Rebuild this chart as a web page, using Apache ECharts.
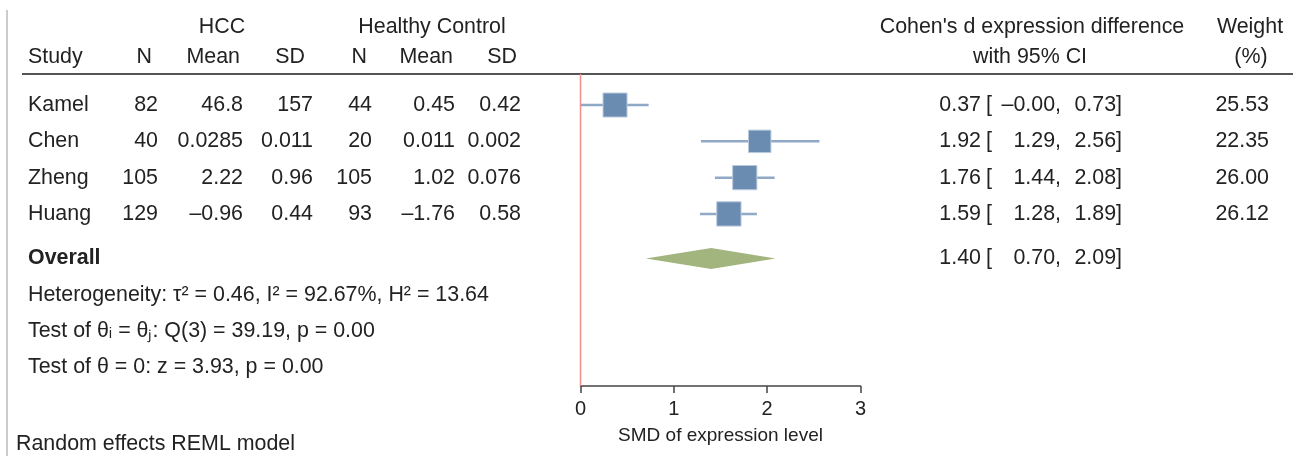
<!DOCTYPE html>
<html>
<head>
<meta charset="utf-8">
<script src="https://cdn.jsdelivr.net/npm/echarts@6/dist/echarts.min.js"></script>
<style>
  html, body { margin: 0; padding: 0; background: #fff; }
  #chart { width: 1306px; height: 456px; }
</style>
</head>
<body>
<div id="chart"></div>
<script>
// study level data
var studies = ['Kamel', 'Chen', 'Zheng', 'Huang'];
var hccN = [82, 40, 105, 129];
var hccMean = ['46.8', '0.0285', '2.22', '–0.96'];
var hccSD = ['157', '0.011', '0.96', '0.44'];
var ctlN = [44, 20, 105, 93];
var ctlMean = ['0.45', '0.011', '1.02', '–1.76'];
var ctlSD = ['0.42', '0.002', '0.076', '0.58'];
var smd = [0.37, 1.92, 1.76, 1.59];
var ciLow = [-0.003, 1.29, 1.44, 1.28];
var ciHigh = [0.73, 2.56, 2.08, 1.89];
var weights = [25.53, 22.35, 26.00, 26.12];
// overall estimate [smd, low, high]
var overall = [1.40, 0.70, 2.09];
var statLines = [
  'Heterogeneity: τ² = 0.46, I² = 92.67%, H² = 13.64',
  'Test of θᵢ = θⱼ: Q(3) = 39.19, p = 0.00',
  'Test of θ = 0: z = 3.93, p = 0.00'
];
var xTicks = [0, 1, 2, 3];

// layout (rows in row units, columns in px)
var studyRows = [1, 2, 3, 4];
var overallRow = 5.23;
var statRows = [6.23, 7.24, 8.22];
var FONT = '"Liberation Sans", Arial, Helvetica, sans-serif';

function fmt(v) {
  return v.toFixed(2).replace('-', '–');
}

function textSeries(cells, size) {
  return {
    type: 'custom',
    xAxisIndex: 0,
    yAxisIndex: 0,
    silent: true,
    data: cells.map(function (c) { return [c.x, c.row]; }),
    renderItem: function (params, api) {
      var c = cells[params.dataIndex];
      var p = api.coord([c.x, c.row]);
      return {
        type: 'text',
        x: p[0],
        y: p[1],
        style: {
          text: c.text,
          align: c.align || 'left',
          verticalAlign: 'middle',
          font: (c.bold ? 'bold ' : '') + (c.size || size) + 'px ' + FONT,
          fill: '#222'
        }
      };
    }
  };
}

var cells = [];
// header
cells.push({x: 222, row: -1.15, text: 'HCC', align: 'center'});
cells.push({x: 432, row: -1.15, text: 'Healthy Control', align: 'center'});
cells.push({x: 28, row: -0.32, text: 'Study'});
[[152, 'N'], [240, 'Mean'], [305, 'SD'], [367, 'N'], [453, 'Mean'], [517, 'SD']].forEach(function (h) {
  cells.push({x: h[0], row: -0.32, text: h[1], align: 'right'});
});
cells.push({x: 1032, row: -1.15, text: "Cohen's d expression difference", align: 'center'});
cells.push({x: 1030, row: -0.32, text: 'with 95% CI', align: 'center'});
cells.push({x: 1250, row: -1.15, text: 'Weight', align: 'center'});
cells.push({x: 1251, row: -0.32, text: '(%)', align: 'center'});

studies.forEach(function (s, i) {
  var r = studyRows[i];
  cells.push({x: 28, row: r, text: s});
  cells.push({x: 158, row: r, text: String(hccN[i]), align: 'right'});
  cells.push({x: 243, row: r, text: hccMean[i], align: 'right'});
  cells.push({x: 313, row: r, text: hccSD[i], align: 'right'});
  cells.push({x: 372, row: r, text: String(ctlN[i]), align: 'right'});
  cells.push({x: 455, row: r, text: ctlMean[i], align: 'right'});
  cells.push({x: 521, row: r, text: ctlSD[i], align: 'right'});
  cells.push({x: 981, row: r, text: fmt(smd[i]), align: 'right'});
  cells.push({x: 986, row: r, text: '['});
  cells.push({x: 1061, row: r, text: fmt(ciLow[i]) + ',', align: 'right'});
  cells.push({x: 1122, row: r, text: fmt(ciHigh[i]) + ']', align: 'right'});
  cells.push({x: 1269, row: r, text: weights[i].toFixed(2), align: 'right'});
});
cells.push({x: 28, row: overallRow, text: 'Overall', bold: true});
cells.push({x: 981, row: overallRow, text: fmt(overall[0]), align: 'right'});
cells.push({x: 986, row: overallRow, text: '['});
cells.push({x: 1061, row: overallRow, text: fmt(overall[1]) + ',', align: 'right'});
cells.push({x: 1122, row: overallRow, text: fmt(overall[2]) + ']', align: 'right'});
statLines.forEach(function (t, i) {
  cells.push({x: 28, row: statRows[i], text: t});
});
cells.push({x: 16, row: 10.35, text: 'Random effects REML model'});

var option = {
  animation: false,
  backgroundColor: '#fff',
  grid: [
    {left: 0, right: 0, top: 0, bottom: 0},
    {left: 580.5, width: 280, top: 0, bottom: 70}
  ],
  xAxis: [
    {gridIndex: 0, type: 'value', min: 0, max: 1306, show: false},
    {
      gridIndex: 1, type: 'value', min: 0, max: 3, interval: 1,
      position: 'bottom',
      splitLine: {show: false},
      axisLine: {show: true, onZero: false, lineStyle: {color: '#444', width: 1.5}},
      axisTick: {show: true, length: 7, lineStyle: {color: '#444', width: 1.5}},
      axisLabel: {color: '#222', fontSize: 20, fontFamily: FONT, margin: 13,
        formatter: function (v) { return xTicks.indexOf(v) >= 0 ? String(v) : ''; }},
      name: 'SMD of expression level',
      nameLocation: 'middle',
      nameGap: 40,
      nameTextStyle: {color: '#222', fontSize: 19, fontFamily: FONT}
    }
  ],
  yAxis: [
    {gridIndex: 0, type: 'value', min: -1.893, max: 10.669, inverse: true, show: false},
    {gridIndex: 1, type: 'value', min: -1.893, max: 8.74, inverse: true, show: false}
  ],
  series: [
    // left border and header rule
    {
      type: 'line', xAxisIndex: 0, yAxisIndex: 0, silent: true, symbol: 'none',
      lineStyle: {color: '#999', width: 1},
      data: [[7, -1.62], [7, 10.669]]
    },
    {
      type: 'line', xAxisIndex: 0, yAxisIndex: 0, silent: true, symbol: 'none',
      lineStyle: {color: '#555', width: 2},
      data: [[22, 0.146], [1293, 0.146]]
    },
    // no-effect reference line
    {
      type: 'line', xAxisIndex: 1, yAxisIndex: 1, silent: true, symbol: 'none',
      lineStyle: {color: '#f28f8a', width: 1.5},
      data: [[0, 0.146], [0, 8.74]]
    },
    // confidence intervals
    {
      type: 'custom', xAxisIndex: 1, yAxisIndex: 1, silent: true,
      data: studies.map(function (s, i) { return [ciLow[i], ciHigh[i], studyRows[i]]; }),
      renderItem: function (params, api) {
        var a = api.coord([api.value(0), api.value(2)]);
        var b = api.coord([api.value(1), api.value(2)]);
        return {
          type: 'line',
          shape: {x1: a[0], y1: a[1], x2: b[0], y2: b[1]},
          style: {stroke: '#8fa9c6', lineWidth: 2.5}
        };
      }
    },
    // study estimates, box area ~ weight
    {
      type: 'scatter', xAxisIndex: 1, yAxisIndex: 1, silent: true,
      symbol: 'rect',
      data: studies.map(function (s, i) { return [smd[i], studyRows[i], weights[i]]; }),
      symbolSize: function (v) { return Math.sqrt(v[2]) * 4.75; },
      itemStyle: {color: '#6a8cb0', borderColor: '#b9cadd', borderWidth: 1, opacity: 1}
    },
    // overall diamond
    {
      type: 'custom', xAxisIndex: 1, yAxisIndex: 1, silent: true,
      data: [[overall[0], overall[1], overall[2], overallRow]],
      renderItem: function (params, api) {
        var y = api.value(3);
        var l = api.coord([api.value(1), y]);
        var m = api.coord([api.value(0), y]);
        var r = api.coord([api.value(2), y]);
        var h = 10.5;
        return {
          type: 'polygon',
          shape: {points: [[l[0], l[1]], [m[0], m[1] - h], [r[0], r[1]], [m[0], m[1] + h]]},
          style: {fill: '#a3b57e'}
        };
      }
    },
    textSeries(cells, 21.4)
  ]
};

var myChart = echarts.init(document.getElementById('chart'));
myChart.setOption(option);
window.onresize = function () { myChart.resize(); };
</script>
</body>
</html>
